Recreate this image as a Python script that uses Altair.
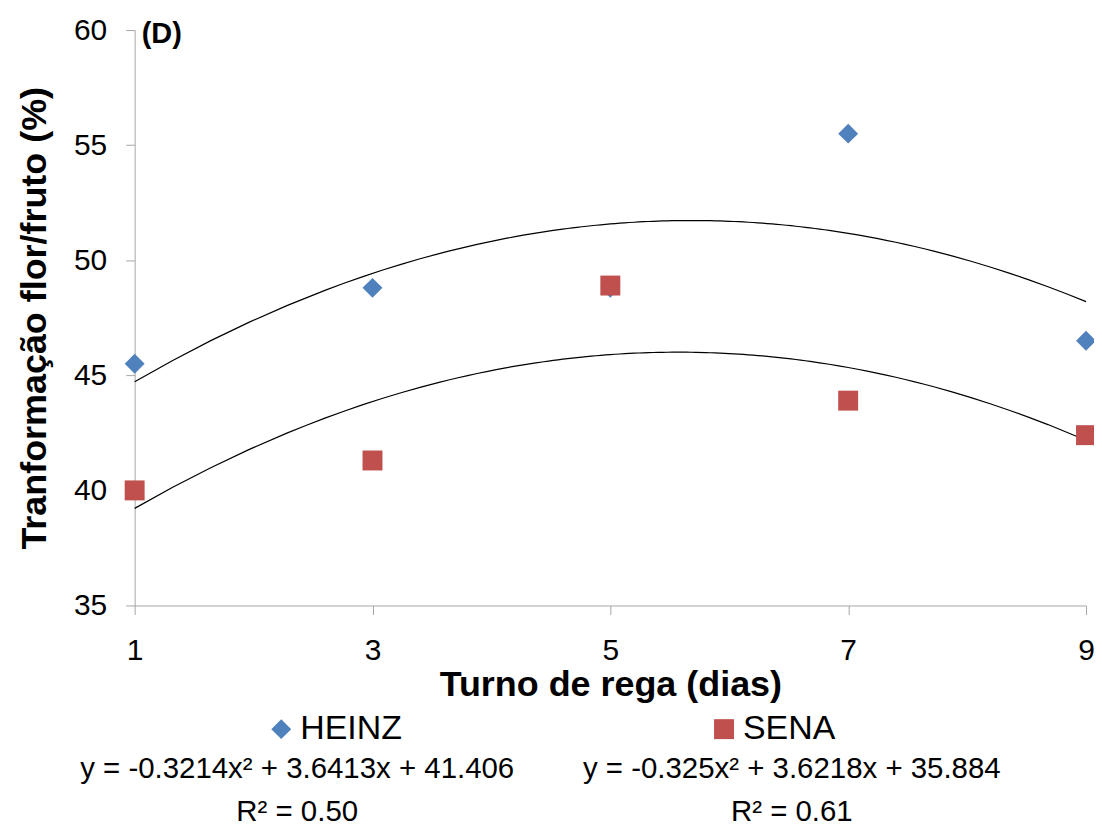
import altair as alt
import pandas as pd

# ---- data ----
turno = [1, 3, 5, 7, 9]
heinz = [45.5, 48.8, 48.8, 55.5, 46.5]
sena = [40.0, 41.3, 48.9, 43.9, 42.4]
series_names = ["HEINZ", "SENA"]
series_colors = ["#4F81BD", "#C0504D"]
series_shapes = ["diamond", "square"]
x_ticks = [1, 3, 5, 7, 9]
y_ticks = [35, 40, 45, 50, 55, 60]
eq_heinz = ["y = -0.3214x² + 3.6413x + 41.406\nR² = 0.50"]
eq_sena = ["y = -0.325x² + 3.6218x + 35.884\nR² = 0.61"]
panel_label = ["(D)"]
x_title = "Turno de rega (dias)"
y_title = "Tranformação flor/fruto (%)"

FONT = "Liberation Sans"
GRAY = "#A6A6A6"

df = pd.DataFrame({
    "turno": turno + turno,
    "valor": heinz + sena,
    "serie": [series_names[0]] * len(turno) + [series_names[1]] * len(turno),
})

x_enc = alt.X(
    "turno:Q",
    scale=alt.Scale(domain=[1, 9], nice=False, zero=False),
    axis=alt.Axis(
        values=x_ticks, title=x_title, grid=False, labelFlush=False,
        domainColor=GRAY, tickColor=GRAY, tickSize=9,
        labelFont=FONT, labelFontSize=30, labelColor="black", labelPadding=21,
        titleFont=FONT, titleFontSize=36, titleFontWeight="bold", titleColor="black",
        titlePadding=2,
    ),
)
y_enc = alt.Y(
    "valor:Q",
    scale=alt.Scale(domain=[35, 60], nice=False, zero=False),
    axis=alt.Axis(
        values=y_ticks, title=y_title, grid=False,
        domainColor=GRAY, tickColor=GRAY, tickSize=9,
        labelFont=FONT, labelFontSize=30, labelColor="black", labelPadding=19,
        titleFont=FONT, titleFontSize=36, titleFontWeight="bold", titleColor="black",
        titlePadding=20,
    ),
)

legend = alt.Legend(
    title=None, orient="none", legendX=130, legendY=684, columns=2,
    columnPadding=306, padding=0, symbolSize=400, symbolStrokeWidth=0,
    labelFont=FONT, labelFontSize=34, labelColor="black", labelOffset=2,
    symbolOpacity=1,
)

base = alt.Chart(df)

trend = base.transform_regression(
    "turno", "valor", method="poly", order=2, groupby=["serie"]
).mark_line(color="black", strokeWidth=1.2).encode(
    x=x_enc, y=y_enc, detail="serie:N"
)

points = base.mark_point(filled=True, size=400, opacity=1).encode(
    x=x_enc,
    y=y_enc,
    color=alt.Color("serie:N", scale=alt.Scale(domain=series_names, range=series_colors), legend=legend),
    shape=alt.Shape("serie:N", scale=alt.Scale(domain=series_names, range=series_shapes), legend=legend),
)

def text_layer(lines, x, y, size, weight="normal", align="center"):
    return alt.Chart(pd.DataFrame({"t": lines})).mark_text(
        font=FONT, fontSize=size, fontWeight=weight, color="black",
        align=align, baseline="alphabetic", lineBreak="\n", lineHeight=43,
    ).encode(text="t:N", x=alt.value(x), y=alt.value(y))

eq1 = text_layer(eq_heinz, 163, 750, 29.5)
eq2 = text_layer(eq_sena, 659, 750, 29.5)
lab = alt.Chart(pd.DataFrame({"t": panel_label})).mark_text(
    font=FONT, fontSize=29, fontWeight="bold", color="black", align="left", baseline="middle"
).encode(text="t:N", x=alt.value(7), y=alt.value(4))

chart = alt.layer(trend, points, eq1, eq2, lab).properties(
    width=954, height=577,
    padding={"left": 127, "top": 21, "right": 8, "bottom": 224},
    autosize=alt.AutoSizeParams(type="none"),
).configure_view(stroke=None)

chart.save("out.html", embed_options={"renderer": "svg", "actions": False})
